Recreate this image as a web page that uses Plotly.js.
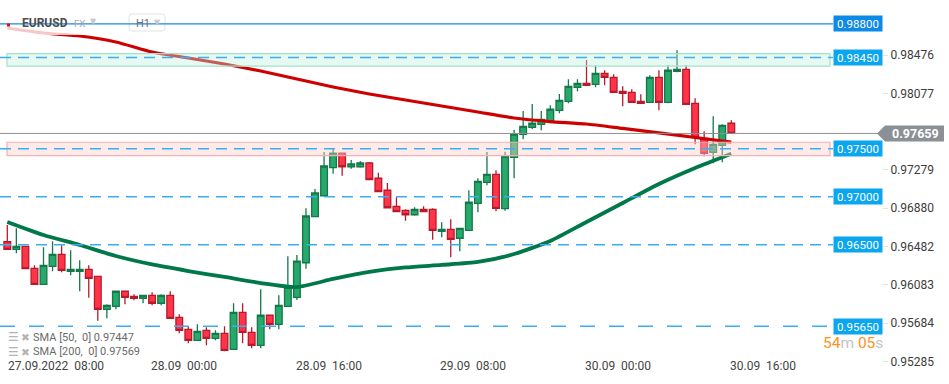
<!DOCTYPE html>
<html><head><meta charset="utf-8">
<script src="https://cdn.plot.ly/plotly-3.0.1.min.js"></script>
<style>html,body{margin:0;padding:0;background:#fff}#chart{width:949px;height:384px}</style>
</head><body><div id="chart"></div>
<script>
// ---------------- DATA ----------------
const firstCandle = '2022-09-27 04:00';   // H1 candles, one per hour
const open  = [0.96531,0.96452,0.96483,0.96254,0.96087,0.96275,0.96400,0.96223,0.96223,0.96244,
               0.96171,0.95827,0.95858,0.96015,0.95962,0.95942,0.95973,0.95890,0.95973,0.95744,
               0.95619,0.95504,0.95608,0.95525,0.95577,0.95410,0.95796,0.95587,0.95452,0.95765,
               0.95671,0.95858,0.95952,0.96312,0.96792,0.97010,0.97302,0.97455,0.97312,0.97312,
               0.97351,0.97192,0.97067,0.96900,0.96858,0.96812,0.96869,0.96869,0.96640,0.96660,
               0.96567,0.96650,0.96931,0.97150,0.97233,0.96875,0.97410,0.97650,0.97723,0.97754,
               0.97786,0.97900,0.97994,0.98140,0.98181,0.98171,0.98285,0.98244,0.98098,0.98087,
               0.97994,0.97983,0.98244,0.97983,0.98306,0.98327,0.97973,0.97608,0.97462,0.97535,
               0.97765];
const high  = [0.96705,0.96671,0.96485,0.96285,0.96473,0.96535,0.96494,0.96442,0.96337,0.96285,
               0.96174,0.95879,0.96018,0.96018,0.95983,0.95976,0.96004,0.95983,0.96015,0.95775,
               0.95650,0.95671,0.95640,0.95608,0.95650,0.95890,0.95890,0.95640,0.96035,0.95768,
               0.95973,0.96379,0.96393,0.96879,0.97080,0.97466,0.97507,0.97455,0.97382,0.97372,
               0.97361,0.97250,0.97143,0.96994,0.96869,0.96890,0.96900,0.96879,0.96733,0.96765,
               0.96674,0.97067,0.97192,0.97466,0.97275,0.97469,0.97695,0.97893,0.97966,0.97893,
               0.97952,0.98070,0.98223,0.98223,0.98424,0.98369,0.98317,0.98275,0.98150,0.98119,
               0.98067,0.98265,0.98317,0.98369,0.98525,0.98369,0.98025,0.97681,0.97837,0.97754,
               0.97796];
const low   = [0.96445,0.96410,0.96245,0.96080,0.96080,0.96223,0.96212,0.96181,0.96015,0.95948,
               0.95708,0.95733,0.95827,0.95879,0.95921,0.95890,0.95869,0.95869,0.95731,0.95577,
               0.95473,0.95502,0.95452,0.95504,0.95390,0.95403,0.95473,0.95421,0.95421,0.95619,
               0.95619,0.95851,0.95924,0.96250,0.96789,0.97007,0.97240,0.97219,0.97292,0.97302,
               0.97174,0.97049,0.96882,0.96841,0.96750,0.96802,0.96841,0.96552,0.96577,0.96369,
               0.96431,0.96648,0.96838,0.97119,0.96848,0.96854,0.97192,0.97598,0.97705,0.97692,
               0.97765,0.97869,0.97973,0.98098,0.98158,0.98140,0.98160,0.98085,0.97942,0.97981,
               0.97971,0.97976,0.97900,0.97973,0.98296,0.97960,0.97546,0.97421,0.97348,0.97358,
               0.97655];
const close = [0.96452,0.96483,0.96250,0.96087,0.96285,0.96400,0.96233,0.96244,0.96244,0.96150,
               0.95827,0.95869,0.96015,0.95952,0.95942,0.95973,0.95890,0.95973,0.95733,0.95608,
               0.95504,0.95598,0.95525,0.95577,0.95400,0.95796,0.95587,0.95452,0.95765,0.95671,
               0.95869,0.96056,0.96330,0.96799,0.97039,0.97320,0.97455,0.97312,0.97341,0.97351,
               0.97177,0.97052,0.96885,0.96844,0.96812,0.96869,0.96844,0.96650,0.96660,0.96556,
               0.96671,0.96942,0.97160,0.97233,0.96879,0.97424,0.97653,0.97733,0.97765,0.97806,
               0.97911,0.98004,0.98150,0.98181,0.98160,0.98285,0.98244,0.98087,0.98077,0.97983,
               0.97973,0.98244,0.97983,0.98317,0.98327,0.97962,0.97619,0.97452,0.97546,0.97744,
               0.97659];
// moving averages, sampled at these candle indices
const smaIdx  = [0,4,8,12,16,20,24,28,32,36,40,44,48,52,56,60,64,68,72,76,80];
const sma50   = [0.96737,0.96601,0.96497,0.96382,0.96294,0.96226,0.96164,0.96101,0.96059,0.96143,
                 0.96216,0.96263,0.96289,0.96320,0.96403,0.96539,0.96737,0.96934,0.97132,0.97299,0.97447];
const sma200  = [0.98757,0.98705,0.98674,0.98612,0.98507,0.98445,0.98382,0.98309,0.98226,0.98143,
                 0.98070,0.98007,0.97945,0.97882,0.97820,0.97783,0.97757,0.97711,0.97664,0.97617,0.97569];
const yTicks     = [0.95285,0.95684,0.96083,0.96482,0.96880,0.97279,0.98077,0.98476];
const xTickTimes = ['2022-09-27 08:00','2022-09-28 00:00','2022-09-28 16:00','2022-09-29 08:00','2022-09-30 00:00','2022-09-30 16:00'];
const xTickText  = ['27.09.2022\u00a0\u00a008:00','28.09\u00a0\u00a000:00','28.09\u00a0\u00a016:00','29.09\u00a0\u00a008:00','30.09\u00a0\u00a000:00','30.09\u00a0\u00a016:00'];
const levels     = [0.98800,0.98450,0.97500,0.97000,0.96500,0.95650];
const lastPrice  = 0.97659;
const zoneGreen  = [0.98360,0.98490];
const zonePink   = [0.97427,0.97567];
const legendRows = ['SMA [50,  0] 0.97447','SMA [200,  0] 0.97569'];

// ---------------- BUILD ----------------
const FONT = 'Roboto, "Open Sans", "DejaVu Sans", sans-serif';
const t0 = Date.parse(firstCandle.replace(' ','T') + ':00Z');
const fmt = ms => new Date(ms).toISOString().slice(0,19).replace('T',' ');
const times = open.map((_, i) => fmt(t0 + i*3600000 + 1800000)); // centre of each hour
const smaTimes = smaIdx.map(i => times[i]);

const W = 882, H = 362;               // plot area in px
const px = x => x / W;
const py = y => (H - y) / H;

const traces = [
  {type:'candlestick', x:times, open:open, high:high, low:low, close:close,
   increasing:{line:{color:'#15784a', width:1.3}, fillcolor:'#27a96c'},
   decreasing:{line:{color:'#b81a2c', width:1.3}, fillcolor:'#ff3448'},
   whiskerwidth:0, hoverinfo:'skip', showlegend:false},
  {type:'scatter', mode:'lines', x:smaTimes, y:sma50, line:{color:'#00784a', width:3.8, shape:'spline', smoothing:0.6}, hoverinfo:'skip', showlegend:false},
  {type:'scatter', mode:'lines', x:smaTimes, y:sma200, line:{color:'#cf0000', width:3.2, shape:'spline', smoothing:0.6}, hoverinfo:'skip', showlegend:false}
];

const shapes = [];
// header veil
shapes.push({type:'rect', xref:'paper', yref:'paper', x0:0, x1:px(172), y0:py(35), y1:1, fillcolor:'rgba(255,255,255,0.78)', line:{width:0}, layer:'above'});
shapes.push({type:'path', xref:'paper', yref:'paper', xsizemode:'pixel', ysizemode:'pixel', xanchor:px(147), yanchor:py(22.5),
  path:'M -15 -8.5 L 15 -8.5 Q 18 -8.5 18 -5.5 L 18 5.5 Q 18 8.5 15 8.5 L -15 8.5 Q -18 8.5 -18 5.5 L -18 -5.5 Q -18 -8.5 -15 -8.5 Z',
  line:{color:'#e2e2e2', width:1}, fillcolor:'rgba(255,255,255,0)', layer:'above'});
// zones
shapes.push({type:'rect', xref:'paper', yref:'y', x0:px(7), x1:px(830), y0:zoneGreen[0], y1:zoneGreen[1],
  fillcolor:'rgba(190,238,220,0.38)', line:{color:'#a3e2ca', width:1.2}, layer:'above'});
shapes.push({type:'rect', xref:'paper', yref:'y', x0:px(7), x1:px(830), y0:zonePink[0], y1:zonePink[1],
  fillcolor:'rgba(255,205,205,0.42)', line:{color:'#f3b1b1', width:1.2}, layer:'above'});
// level lines
levels.forEach((v, i) => {
  const first = i === 0, last = i === levels.length - 1;
  shapes.push({type:'line', xref:'paper', yref:'y', x0:0, x1:px(833), y0:v, y1:v, layer:'above',
    line:{color: first ? '#1a87e3' : '#3aaef0', width: first ? 1.2 : 1.5,
          dash: first ? 'solid' : (last ? '15px,14px' : '11px,7px')}});
});
// little red marker in the header
shapes.push({type:'rect', xref:'paper', yref:'paper', x0:px(7), x1:px(10), y0:py(26.5), y1:py(23.5), fillcolor:'#d0101a', line:{width:0}, layer:'above'});
// current price line + tag
shapes.push({type:'line', xref:'paper', yref:'y', x0:0, x1:px(878), y0:lastPrice, y1:lastPrice, line:{color:'#909090', width:1}, layer:'above'});
shapes.push({type:'path', xref:'paper', yref:'y', xsizemode:'pixel', ysizemode:'pixel', xanchor:1, yanchor:lastPrice,
  path:'M -5 0 L 3 8 L 62 8 L 62 -8 L 3 -8 Z', fillcolor:'#8a9096', line:{width:0}, layer:'above'});

const annotations = [];
levels.forEach((v, i) => {
  annotations.push({xref:'paper', yref:'y', x:px(833), y:v, xanchor:'left', yanchor:'middle', showarrow:false,
    text:v.toFixed(5), font:{family:FONT, size:11.5, color:'#ffffff'}, bgcolor: i === 0 ? '#0d89e6' : '#0aa6f0',
    width:48, height:15, borderpad:0, align:'center'});
});
annotations.push({xref:'paper', yref:'y', x:1, xshift:33, y:lastPrice, xanchor:'center', yanchor:'middle', showarrow:false,
  text:'<b>' + lastPrice.toFixed(5) + '</b>', font:{family:FONT, size:12.5, color:'#ffffff'}});
// countdown
annotations.push({xref:'paper', yref:'paper', x:px(852.5), y:py(343), xanchor:'center', yanchor:'middle', showarrow:false,
  height:14, borderpad:0,
  text:'<span style="color:#f7931e">54</span><span style="color:#c4c4c4">m</span> <span style="color:#f7931e">05</span><span style="color:#c4c4c4">s</span>',
  font:{family:FONT, size:15.5, color:'#f7931e'}});
// legend rows
legendRows.forEach((t, i) => {
  const yc = py(337.3 + i*14.4);
  annotations.push({xref:'paper', yref:'paper', x:px(5.5), y:yc, xanchor:'left', yanchor:'middle', showarrow:false, text:'☰', font:{family:'DejaVu Sans', size:12, color:'#b4b4b4'}});
  annotations.push({xref:'paper', yref:'paper', x:px(18.5), y:yc, xanchor:'left', yanchor:'middle', showarrow:false, text:'✖', font:{family:'DejaVu Sans', size:10.5, color:'#b4b4b4'}});
  annotations.push({xref:'paper', yref:'paper', x:px(30.5), y:yc, xanchor:'left', yanchor:'middle', showarrow:false, text:t.replace(/  /g,'\u00a0 '), font:{family:FONT, size:11, color:'#6a6a6a'}});
});
// header
annotations.push({xref:'paper', yref:'paper', x:px(19.5), y:py(22.5), xanchor:'left', yanchor:'middle', showarrow:false, text:'<b>EURUSD</b>', font:{family:FONT, size:12, color:'#4d4d4d'}});
annotations.push({xref:'paper', yref:'paper', x:px(71.5), y:py(23), xanchor:'left', yanchor:'middle', showarrow:false, text:'FX', font:{family:FONT, size:9.5, color:'#a8a8a8'}});
annotations.push({xref:'paper', yref:'paper', x:px(88), y:py(21.5), xanchor:'left', yanchor:'middle', showarrow:false, text:'▼', font:{family:'DejaVu Sans', size:8, color:'#c8c8c8'}});
annotations.push({xref:'paper', yref:'paper', x:px(134), y:py(23), xanchor:'left', yanchor:'middle', showarrow:false, text:'H1', font:{family:FONT, size:11, color:'#6e6e6e'}});
annotations.push({xref:'paper', yref:'paper', x:px(152), y:py(22.5), xanchor:'left', yanchor:'middle', showarrow:false, text:'▼', font:{family:'DejaVu Sans', size:8, color:'#c8c8c8'}});
// x tick labels
xTickTimes.forEach((t, i) => {
  if (i === 0) {
    annotations.push({xref:'paper', yref:'paper', x:0, xshift:6, y:0, yshift:-4, xanchor:'left', yanchor:'middle', showarrow:false,
      text:xTickText[i], font:{family:FONT, size:12, color:'#444'}});
  } else {
    annotations.push({xref:'x', yref:'paper', x:t, y:0, yshift:-4, xanchor:'center', yanchor:'middle', showarrow:false,
      text:xTickText[i], font:{family:FONT, size:12, color:'#444'}});
  }
});

const layout = {
  width:949, height:384,
  margin:{l:0, r:67, t:0, b:22, pad:0},
  paper_bgcolor:'#ffffff', plot_bgcolor:'#ffffff',
  font:{family:FONT, size:12, color:'#444'},
  showlegend:false,
  boxgap:0.26, boxgroupgap:0,
  xaxis:{type:'date', range:['2022-09-27 03:41:35','2022-10-01 05:09:00'], rangeslider:{visible:false},
         showticklabels:false, showgrid:false, zeroline:false, showline:false, ticks:'', fixedrange:true},
  yaxis:{side:'right', range:[0.952782, 0.990490], tickvals:yTicks, ticktext:yTicks.map(v => v.toFixed(5)),
         tickfont:{family:FONT, size:12, color:'#3c3c3c'}, ticks:'outside', ticklen:5, tickcolor:'#e3e3e3', tickwidth:1,
         showgrid:false, zeroline:false, showline:false, fixedrange:true},
  shapes:shapes, annotations:annotations
};
Plotly.newPlot('chart', traces, layout, {staticPlot:true, displayModeBar:false});
</script>
</body></html>
